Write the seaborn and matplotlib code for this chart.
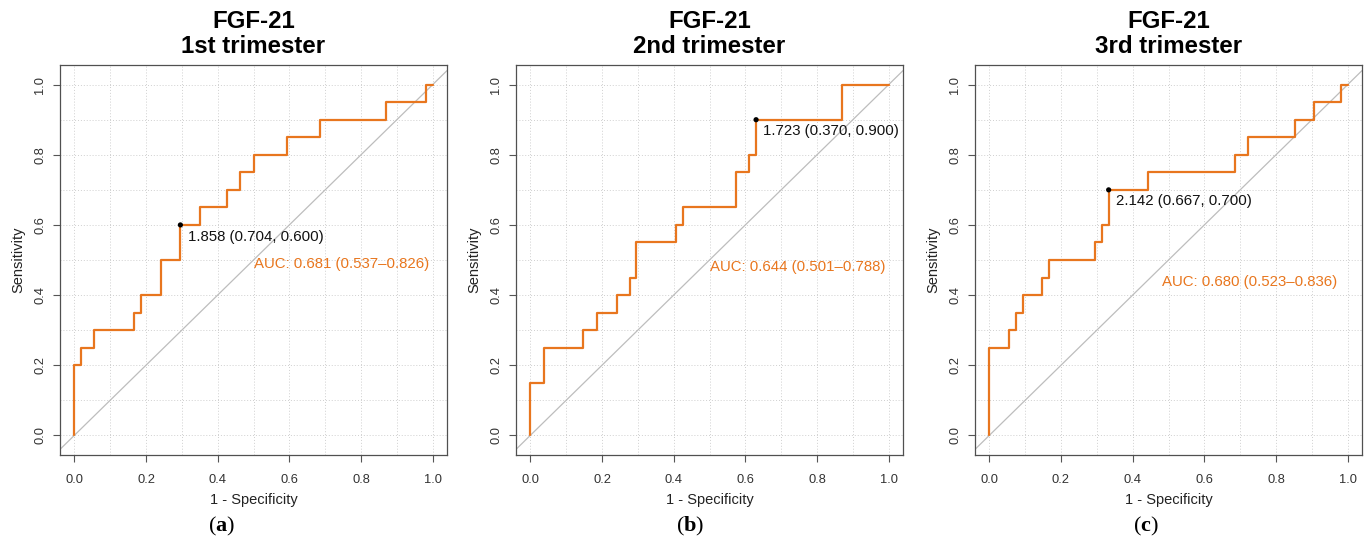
import matplotlib
matplotlib.use("Agg")
import matplotlib.pyplot as plt
import seaborn as sns
import pandas as pd

# ---- data (ROC points: 1 - specificity, sensitivity) ----
panel_titles = ["FGF-21\n1st trimester", "FGF-21\n2nd trimester", "FGF-21\n3rd trimester"]
panel_letters = ["a", "b", "c"]

fpr_1st = [0.0, 0.0, 0.019, 0.056, 0.167, 0.185, 0.241, 0.296, 0.352, 0.426, 0.463, 0.500, 0.593, 0.685, 0.870, 0.981, 1.0]
tpr_1st = [0.0, 0.20, 0.25, 0.30, 0.35, 0.40, 0.50, 0.60, 0.65, 0.70, 0.75, 0.80, 0.85, 0.90, 0.95, 1.00, 1.0]

fpr_2nd = [0.0, 0.0, 0.037, 0.148, 0.185, 0.241, 0.278, 0.296, 0.407, 0.426, 0.574, 0.611, 0.630, 0.870, 1.0]
tpr_2nd = [0.0, 0.15, 0.25, 0.30, 0.35, 0.40, 0.45, 0.55, 0.60, 0.65, 0.75, 0.80, 0.90, 1.00, 1.0]

fpr_3rd = [0.0, 0.0, 0.056, 0.074, 0.093, 0.148, 0.167, 0.296, 0.315, 0.333, 0.444, 0.685, 0.722, 0.852, 0.907, 0.981, 1.0]
tpr_3rd = [0.0, 0.25, 0.30, 0.35, 0.40, 0.45, 0.50, 0.55, 0.60, 0.70, 0.75, 0.80, 0.85, 0.90, 0.95, 1.00, 1.0]

thr_point_x = [0.296, 0.630, 0.333]
thr_point_y = [0.600, 0.900, 0.700]
thr_labels = ["1.858 (0.704, 0.600)", "1.723 (0.370, 0.900)", "2.142 (0.667, 0.700)"]

auc_labels = ["AUC: 0.681 (0.537\u20130.826)", "AUC: 0.644 (0.501\u20130.788)", "AUC: 0.680 (0.523\u20130.836)"]
auc_pos_x = [0.50, 0.50, 0.482]
auc_pos_y = [0.49, 0.48, 0.437]

tick_vals = [0.0, 0.2, 0.4, 0.6, 0.8, 1.0]
tick_labels = ["0.0", "0.2", "0.4", "0.6", "0.8", "1.0"]

fprs = [fpr_1st, fpr_2nd, fpr_3rd]
tprs = [tpr_1st, tpr_2nd, tpr_3rd]

# ---- style ----
sns.set_theme(style="white")
plt.rcParams["font.family"] = ["Liberation Sans", "DejaVu Sans"]
plt.rcParams["mathtext.fontset"] = "custom"
plt.rcParams["mathtext.rm"] = "Liberation Serif"
plt.rcParams["mathtext.bf"] = "Liberation Serif:bold"

ORANGE = "#E8761E"

fig = plt.figure(figsize=(13.69, 5.41), dpi=100)
W, H = 1369, 541
lefts = [60, 516, 975]
box_w = 387
top_px, bot_px = 65, 455
letter_x = [222, 690, 1146]

for i in range(3):
    ax = fig.add_axes([lefts[i] / W, 1 - bot_px / H, box_w / W, (bot_px - top_px) / H])
    df = pd.DataFrame({"fpr": fprs[i], "tpr": tprs[i]})

    # grid
    for g in [k / 10 for k in range(11)]:
        ax.axvline(g, color="#cfcfcf", lw=0.7, ls=(0, (1, 2)), zorder=0)
        ax.axhline(g, color="#cfcfcf", lw=0.7, ls=(0, (1, 2)), zorder=0)

    ax.axline((0, 0), (1, 1), color="#bdbdbd", lw=0.9, zorder=1)

    sns.lineplot(data=df, x="fpr", y="tpr", ax=ax, estimator=None, sort=False,
                 drawstyle="steps-post", color=ORANGE, lw=1.6, zorder=3)
    sns.scatterplot(x=[thr_point_x[i]], y=[thr_point_y[i]], ax=ax, color="black",
                    s=14, edgecolor="none", zorder=4)

    ax.text(thr_point_x[i] + 0.02, thr_point_y[i] - 0.033, thr_labels[i],
            ha="left", va="center", fontsize=10.8, color="#111111")
    ax.text(auc_pos_x[i], auc_pos_y[i], auc_labels[i], ha="left", va="center",
            fontsize=10.8, color=ORANGE)

    ax.set_xlim(-0.04, 1.04)
    ax.set_ylim(-0.056, 1.056)
    ax.set_xticks(tick_vals)
    ax.set_xticklabels(tick_labels)
    ax.set_yticks(tick_vals)
    ax.set_yticklabels(tick_labels, rotation=90, va="center")
    ax.tick_params(axis="both", which="major", direction="out", length=5,
                   width=0.8, color="#555555", labelsize=9.3, labelcolor="#333333",
                   bottom=True, left=True)
    ax.tick_params(axis="x", pad=8.5)
    ax.tick_params(axis="y", pad=5)
    ax.set_xlabel("1 - Specificity", fontsize=10.5, color="#222222", labelpad=5.5)
    ax.set_ylabel("Sensitivity", fontsize=10.5, color="#222222", labelpad=6)
    for sp in ax.spines.values():
        sp.set_color("#505050")
        sp.set_linewidth(0.9)
        sp.set_visible(True)

    cx = (lefts[i] + box_w / 2) / W
    t1, t2 = panel_titles[i].split("\n")
    fig.text(cx, 1 - 21.5 / H, t1, ha="center", va="center", fontsize=17.3,
             fontweight="bold", color="black")
    fig.text(cx, 1 - 46.5 / H, t2, ha="center", va="center", fontsize=17.3,
             fontweight="bold", color="black")
    fig.text(letter_x[i] / W, 1 - 526 / H, r"($\mathbf{%s}$)" % panel_letters[i],
             ha="center", va="center", fontsize=16, family="Liberation Serif",
             color="black")

fig.savefig("out.png", dpi=100)
